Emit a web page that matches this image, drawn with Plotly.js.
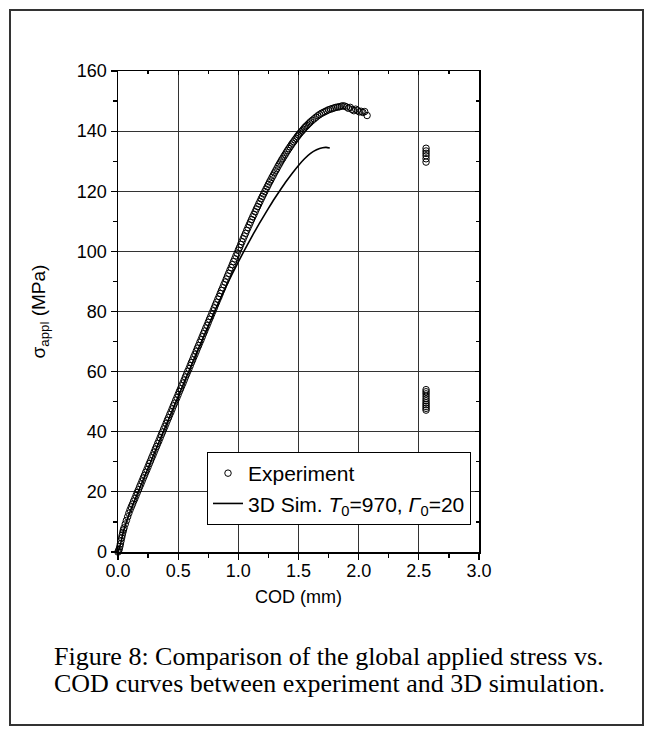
<!DOCTYPE html>
<html>
<head>
<meta charset="utf-8">
<script src="https://cdn.plot.ly/plotly-3.0.1.min.js"></script>
<style>
  html, body { margin: 0; padding: 0; background: #ffffff; }
  #chart { width: 655px; height: 735px; }
</style>
</head>
<body>
<div id="chart"></div>
<script>
// Experiment: COD (mm) vs applied stress (MPa)
const expCOD = [
  0, 0.005, 0.01, 0.015, 0.02, 0.025, 0.03, 0.035, 0.04, 0.045, 0.05, 0.06, 0.07, 0.08, 0.09, 0.10,
  0.11, 0.12, 0.13, 0.14, 0.15, 0.16, 0.17, 0.18, 0.19, 0.20,
  0.21, 0.22, 0.23, 0.24, 0.25, 0.26, 0.27, 0.28, 0.29, 0.30,
  0.31, 0.32, 0.33, 0.34, 0.35, 0.36, 0.37, 0.38, 0.39, 0.40,
  0.41, 0.42, 0.43, 0.44, 0.45, 0.46, 0.47, 0.48, 0.49, 0.50,
  0.51, 0.52, 0.53, 0.54, 0.55, 0.56, 0.57, 0.58, 0.59, 0.60,
  0.61, 0.62, 0.63, 0.64, 0.65, 0.66, 0.67, 0.68, 0.69, 0.70,
  0.71, 0.72, 0.73, 0.74, 0.75, 0.76, 0.77, 0.78, 0.79, 0.80,
  0.81, 0.82, 0.83, 0.84, 0.85, 0.86, 0.87, 0.88, 0.89, 0.90,
  0.91, 0.92, 0.93, 0.94, 0.95, 0.96, 0.97, 0.98, 0.99, 1.00,
  1.01, 1.02, 1.03, 1.04, 1.05, 1.06, 1.07, 1.08, 1.09, 1.10,
  1.11, 1.12, 1.13, 1.14, 1.15, 1.16, 1.17, 1.18, 1.19, 1.20,
  1.21, 1.22, 1.23, 1.24, 1.25, 1.26, 1.27, 1.28, 1.29, 1.30,
  1.31, 1.32, 1.33, 1.34, 1.35, 1.36, 1.37, 1.38, 1.39, 1.40,
  1.41, 1.42, 1.43, 1.44, 1.45, 1.46, 1.47, 1.48, 1.49, 1.50,
  1.51, 1.52, 1.53, 1.54, 1.55, 1.56, 1.57, 1.58, 1.59, 1.60,
  1.615, 1.63, 1.645, 1.66, 1.675, 1.69, 1.705, 1.72, 1.735, 1.75,
  1.765, 1.78, 1.795, 1.81, 1.825, 1.84, 1.855, 1.87, 1.885,
  1.90, 1.915, 1.93, 1.945, 1.96, 1.975, 1.99, 2.005, 2.02, 2.035, 2.05, 2.07
];
const expStress = [
  0, 0.4, 1.0, 1.8, 2.7, 3.7, 4.7, 5.6, 6.5, 7.3, 8.0, 9.3, 10.5, 11.7, 12.9, 14.0,
  15.0, 15.9, 16.9, 17.8, 18.8, 19.8, 20.7, 21.7, 22.6, 23.6,
  24.6, 25.5, 26.5, 27.4, 28.4, 29.4, 30.3, 31.3, 32.2, 33.2,
  34.2, 35.1, 36.1, 37.0, 38.0, 39.0, 39.9, 40.9, 41.8, 42.8,
  43.8, 44.7, 45.7, 46.6, 47.6, 48.6, 49.5, 50.5, 51.4, 52.4,
  53.4, 54.3, 55.3, 56.2, 57.2, 58.2, 59.1, 60.1, 61.0, 62.0,
  63.0, 63.9, 64.9, 65.8, 66.8, 67.8, 68.7, 69.7, 70.6, 71.6,
  72.6, 73.5, 74.5, 75.4, 76.4, 77.4, 78.3, 79.3, 80.2, 81.2,
  82.2, 83.1, 84.1, 85.0, 86.0, 87.0, 87.9, 88.9, 89.8, 90.8,
  91.8, 92.7, 93.7, 94.6, 95.6, 96.6, 97.5, 98.5, 99.4, 100.4,
  101.3, 102.3, 103.2, 104.2, 105.1, 106.0, 107.0, 107.9, 108.8, 109.7,
  110.6, 111.5, 112.3, 113.2, 114.1, 114.9, 115.8, 116.6, 117.5, 118.3,
  119.1, 119.9, 120.7, 121.5, 122.3, 123.1, 123.8, 124.6, 125.3, 126.1,
  126.8, 127.5, 128.3, 129.0, 129.7, 130.4, 131.0, 131.7, 132.3, 133.0,
  133.6, 134.2, 134.8, 135.4, 136.0, 136.5, 137.1, 137.6, 138.2, 138.7,
  139.2, 139.7, 140.1, 140.6, 141.1, 141.5, 141.9, 142.3, 142.7, 143.1,
  143.6, 144.1, 144.6, 145.1, 145.5, 145.9, 146.2, 146.5, 146.8, 147.1,
  147.3, 147.5, 147.7, 147.9, 148.0, 148.1, 148.3, 148.4, 148.3,
  148.0, 147.6, 147.9, 147.2, 146.8, 147.3, 146.9, 146.4, 146.6, 146.2, 146.5, 145.2
];
// Stray experimental points recorded near COD = 2.56 mm
const strayCOD = [2.56, 2.56, 2.56, 2.56, 2.56, 2.56,
  2.56, 2.56, 2.56, 2.56, 2.56, 2.56, 2.56, 2.56, 2.56, 2.56, 2.56];
const strayStress = [129.7, 130.8, 131.8, 132.6, 133.4, 134.3,
  47.2, 47.8, 48.4, 49.0, 49.6, 50.3, 51.0, 51.8, 52.6, 53.3, 54.0];

// 3D simulation curve
const simCOD = [0, 0.02, 0.04, 0.06, 0.08, 0.10, 0.15, 0.20, 0.30, 0.40, 0.50, 0.60, 0.70, 0.80,
  0.85, 0.90, 0.95, 1.00, 1.05, 1.10, 1.15, 1.20, 1.25, 1.30, 1.35, 1.40, 1.45, 1.50,
  1.55, 1.60, 1.65, 1.70, 1.73, 1.76];
const simStress = [0, 2.5, 6.0, 8.8, 11.2, 13.4, 18.3, 23.1, 32.7, 42.2, 51.7, 61.2, 70.6, 79.8,
  84.2, 88.5, 92.6, 96.5, 100.3, 104.0, 107.6, 111.0, 114.3, 117.5, 120.5, 123.4, 126.1, 128.6,
  130.8, 132.6, 133.8, 134.5, 134.6, 134.4];

const xTickVals = [0, 0.5, 1.0, 1.5, 2.0, 2.5, 3.0];
const xTickText = ['0.0', '0.5', '1.0', '1.5', '2.0', '2.5', '3.0'];
const yTickVals = [0, 20, 40, 60, 80, 100, 120, 140, 160];
const yTickText = ['0', '20', '40', '60', '80', '100', '120', '140', '160'];

const seriesNames = ['Experiment', '3D Sim. <i>T</i><sub>0</sub>=970, <i>Γ</i><sub>0</sub>=20'];
const captionLines = ['Figure 8: Comparison of the global applied stress vs.',
  'COD curves between experiment and 3D simulation.'];

const W = 655, H = 735;
const L = 118, R = 479, T = 71, B = 552;
const pw = R - L, ph = B - T;
const px = v => (v - L) / pw;
const py = v => (B - v) / ph;

const sans = 'Liberation Sans, Arial, sans-serif';
const serif = 'Liberation Serif, Times New Roman, serif';

const traces = [
  {
    type: 'scatter', mode: 'markers', name: seriesNames[0],
    x: expCOD.concat(strayCOD), y: expStress.concat(strayStress),
    marker: { symbol: 'circle-open', size: 6.5, color: '#000', line: { width: 1, color: '#000' } },
    cliponaxis: false
  },
  {
    type: 'scatter', mode: 'lines', name: seriesNames[1],
    x: simCOD, y: simStress,
    line: { color: '#000', width: 1.6, shape: 'spline', smoothing: 0.6 }
  },
  // carrier for the mirrored top/right axes (draws nothing)
  {
    type: 'scatter', mode: 'markers', x: [xTickVals[0]], y: [yTickVals[0]],
    xaxis: 'x2', yaxis: 'y2', showlegend: false, hoverinfo: 'skip',
    marker: { size: 1, opacity: 0 }
  }
];

const axisCommon = {
  showline: true, linecolor: '#000', linewidth: 1.5,
  ticks: 'outside', ticklen: 6, tickwidth: 1.2, tickcolor: '#000',
  showgrid: true, gridcolor: '#333', gridwidth: 1,
  zeroline: false,
  tickfont: { family: sans, size: 18, color: '#000' }
};

const layout = {
  width: W, height: H,
  margin: { l: L, r: W - R, t: T, b: H - B, pad: 0 },
  paper_bgcolor: '#fff', plot_bgcolor: '#fff',
  showlegend: true,
  xaxis: Object.assign({}, axisCommon, {
    range: [0, 3.0], tickmode: 'array', tickvals: xTickVals, ticktext: xTickText,
    ticklabelstandoff: -4,
    minor: { dtick: 0.25, tick0: 0, ticks: 'outside', ticklen: 4, tickcolor: '#000', showgrid: false },
    title: { text: 'COD (mm)', font: { family: sans, size: 18, color: '#000' }, standoff: 10 }
  }),
  yaxis: Object.assign({}, axisCommon, {
    range: [0, 160], tickmode: 'array', tickvals: yTickVals, ticktext: yTickText,
    minor: { dtick: 10, tick0: 0, ticks: 'outside', ticklen: 4, tickcolor: '#000', showgrid: false },
    title: { text: 'σ<sub>appl</sub> (MPa)', font: { family: sans, size: 19, color: '#000' }, standoff: 26 }
  }),
  xaxis2: {
    overlaying: 'x', side: 'top', anchor: 'y2', range: [0, 3.0],
    showline: true, linecolor: '#000', linewidth: 1.5,
    ticks: 'inside', ticklen: 4, tickwidth: 1.2, tickcolor: '#000',
    tickmode: 'array', tickvals: xTickVals, showticklabels: false,
    minor: { dtick: 0.25, tick0: 0, ticks: 'inside', ticklen: 3, tickcolor: '#000', showgrid: false },
    showgrid: false, zeroline: false
  },
  yaxis2: {
    overlaying: 'y', side: 'right', anchor: 'x2', range: [0, 160],
    showline: true, linecolor: '#000', linewidth: 1.5,
    ticks: 'inside', ticklen: 4, tickwidth: 1.2, tickcolor: '#000',
    tickmode: 'array', tickvals: yTickVals, showticklabels: false,
    minor: { dtick: 10, tick0: 0, ticks: 'inside', ticklen: 3, tickcolor: '#000', showgrid: false },
    showgrid: false, zeroline: false
  },
  legend: {
    x: px(207), y: py(452), xanchor: 'left', yanchor: 'top',
    bgcolor: '#fff', bordercolor: '#000', borderwidth: 1,
    font: { family: sans, size: 21, color: '#000' },
    tracegroupgap: 0, itemwidth: 30
  },
  shapes: [
    { type: 'rect', xref: 'paper', yref: 'paper',
      x0: px(10), x1: px(643), y0: py(725), y1: py(10),
      line: { color: '#333', width: 2 }, fillcolor: 'rgba(0,0,0,0)', layer: 'below' }
  ],
  annotations: [
    { xref: 'paper', yref: 'paper', x: px(329), y: py(656), xanchor: 'center', yanchor: 'middle',
      text: captionLines[0], showarrow: false,
      font: { family: serif, size: 26, color: '#000' } },
    { xref: 'paper', yref: 'paper', x: px(329), y: py(683), xanchor: 'center', yanchor: 'middle',
      text: captionLines[1], showarrow: false,
      font: { family: serif, size: 26, color: '#000' } }
  ]
};

Plotly.newPlot('chart', traces, layout, { staticPlot: true, displayModeBar: false });
</script>
</body>
</html>
